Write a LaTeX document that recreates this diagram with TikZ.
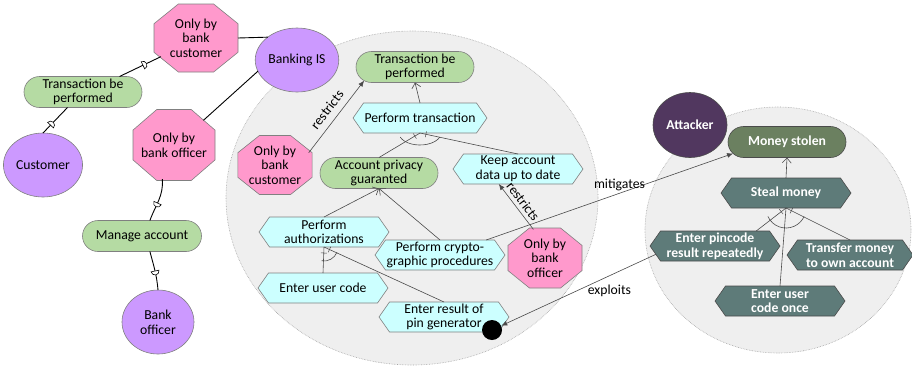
\documentclass[tikz,border=0pt]{standalone}
\usepackage{fontspec}
\setmainfont{Carlito}
\usetikzlibrary{shapes.geometric,shapes.misc,shapes.symbols,arrows.meta,calc,decorations.markings}
\pgfdeclarelayer{back}
\pgfdeclarelayer{bg}
\pgfsetlayers{back,bg,main}
\definecolor{pinkfill}{HTML}{FF99CC}
\definecolor{actorfill}{HTML}{CC99FF}
\definecolor{goalfill}{HTML}{B5DBA3}
\definecolor{taskfill}{HTML}{CCFFFF}
\definecolor{regionfill}{HTML}{EFEFEF}
\definecolor{attfill}{HTML}{51375F}
\definecolor{msfill}{HTML}{6B8060}
\definecolor{darktask}{HTML}{5E7B79}
\definecolor{edge}{HTML}{808080}
\definecolor{linegray}{HTML}{4A4A4A}
\tikzset{
  base/.style={align=center, inner sep=1pt, outer sep=0pt, font=\fontsize{13.7}{14.6}\selectfont, text=black},
  actor/.style={base, ellipse, draw=edge, fill=actorfill, line width=0.6pt, minimum width=72pt, minimum height=64pt},
  goal/.style={base, rounded rectangle, draw=edge, fill=goalfill, line width=0.6pt, minimum width=120pt, minimum height=31pt},
  goalD/.style={goal, fill=msfill, draw=linegray, text=white, font=\fontsize{13.7}{14.6}\selectfont\bfseries},
  task/.style={base, signal, signal to=east and west, signal pointer angle=110, draw=edge, fill=taskfill, line width=0.6pt, minimum width=130pt, minimum height=30pt},
  taskD/.style={task, fill=darktask, draw=linegray, text=white, font=\fontsize{13.7}{14.6}\selectfont\bfseries},
  oct/.style={base, ellipse, inner sep=0pt},
  octstyle/.style={draw=edge, fill=pinkfill, line width=0.6pt},
  region/.style={draw=gray!70, densely dotted, fill=regionfill, line width=0.6pt},
  depline/.style={draw=black, line width=0.9pt},
  depmark/.style={postaction={decorate, decoration={markings, mark=at position #1 with {\draw[fill=white, line width=0.6pt] (-1.5pt,-4pt) -- (-1.5pt,4pt) arc[start angle=90, end angle=-90, radius=4pt] -- cycle;}}}},
  dec/.style={draw=linegray, line width=0.6pt},
  tickend/.style={postaction={decorate, decoration={markings, mark=at position -6pt with {\draw[linegray, line width=0.5pt] (0pt,-3pt) -- (0pt,3pt);}}}},
  me/.style={dec, -{Straight Barb[length=5pt,width=9pt]}},
  arr/.style={dec, -{Latex[length=6pt,width=5pt]}},
  lbl/.style={base, inner sep=1pt}
}
\newcommand\octdraw[1]{%
  \begin{pgfonlayer}{bg}
  \draw[octstyle] let \p1=(#1.west), \p2=(#1.east), \p3=(#1.north), \p4=(#1.south) in
    ({\x1+0.29*(\x2-\x1)},\y3) -- ({\x2-0.29*(\x2-\x1)},\y3) -- (\x2,{\y3-0.29*(\y3-\y4)}) --
    (\x2,{\y4+0.29*(\y3-\y4)}) -- ({\x2-0.29*(\x2-\x1)},\y4) -- ({\x1+0.29*(\x2-\x1)},\y4) --
    (\x1,{\y4+0.29*(\y3-\y4)}) -- (\x1,{\y3-0.29*(\y3-\y4)}) -- cycle;
  \end{pgfonlayer}}
\begin{document}
\begin{tikzpicture}[x=1pt,y=-1pt]
\useasboundingbox (0,0) rectangle (912,368);
\begin{pgfonlayer}{back}
  \fill[white] (0,0) rectangle (912,368);
  \draw[region] (412,198) ellipse [x radius=186pt, y radius=167pt];
  \draw[region] (778,230) ellipse [x radius=133pt, y radius=123pt];
\end{pgfonlayer}
% left part
\node[actor] (cust) at (43,165) {Customer};
\node[actor] (officer) at (158,322) {Bank\\officer};
\node[actor] (bis) at (297,60) {Banking IS};
\node[goal] (goalL) at (83,92) {Transaction be\\performed};
\node[goal, minimum width=121pt] (manage) at (142,236) {Manage account};
\node[oct, minimum width=84pt, minimum height=68pt] (ocA) at (196,38) {Only by\\bank\\customer};
\node[oct, inner sep=-4pt, minimum width=82pt, minimum height=71pt] (ocB) at (174,145) {Only by\\bank officer};
% banking IS region
\node[oct, minimum width=74pt, minimum height=59pt] (ocC) at (275,165) {Only by\\bank\\customer};
\node[oct, minimum width=74pt, minimum height=60pt] (ocD) at (545,258) {Only by\\bank\\officer};
\octdraw{ocA}\octdraw{ocB}\octdraw{ocC}\octdraw{ocD}
\node[goal] (goalT) at (415,67) {Transaction be\\performed};
\node[task] (ptrans) at (420,118) {Perform transaction};
\node[goal] (privacy) at (379,173) {Account privacy\\guaranted};
\node[task] (keep) at (518,169) {Keep account\\data up to date};
\node[task] (auth) at (324,232) {Perform\\authorizations};
\node[task] (crypto) at (440,255) {Perform crypto-\\graphic procedures};
\node[task] (usercode) at (323,288) {Enter user code};
\node[task] (pingen) at (444,317) {Enter result of\\pin generator};
\node[circle, fill=black, minimum size=20pt, inner sep=0pt] (dot) at (492,330) {};
% attacker region
\node[actor, fill=attfill, draw=linegray, text=white, font=\fontsize{13.7}{14.6}\selectfont\bfseries, minimum width=74pt, minimum height=65pt] (att) at (690,125) {Attacker};
\node[goalD] (ms) at (787,142) {Money stolen};
\node[taskD] (steal) at (786,193) {Steal money};
\node[taskD] (pinrep) at (715,246) {Enter pincode\\result repeatedly};
\node[taskD, minimum width=126pt] (transfer) at (850,255) {Transfer money\\to own account};
\node[taskD] (once) at (780,301) {Enter user\\code once};
% dependencies (left)
\draw[depline, depmark=0.6] (goalL.23) -- (ocA.208);
\draw[depline, depmark=0.35] (cust.north) -- (goalL.225);
\draw[depline] (ocA.east) -- (bis.142);
\draw[depline] (ocB.40) -- (bis.196);
\draw[depline, depmark=0.6] (ocB.251) to[out=-85, in=70] (manage.63);
\draw[depline, depmark=0.55] (manage.297) to[out=-75, in=95] (officer.north);
% means-end
\draw[me] (ptrans.north) -- (goalT.south);
\draw[me] (auth.north) -- (privacy.south);
\draw[me] (crypto.north) -- (privacy.south);
\draw[me] (steal.north) -- (ms.south);
% AND decompositions
\draw[dec, tickend] (privacy.north) -- (ptrans.south);
\draw[dec, tickend] (keep.north) -- (ptrans.south);
\draw[dec] (ptrans.south) ++(200:21pt and 12pt) arc[start angle=200, end angle=340, x radius=21pt, y radius=12pt];
\draw[dec, tickend] (usercode.north) -- (auth.south);
\draw[dec, tickend] (pingen.north) -- (auth.south);
\draw[dec] (auth.south) ++(260:14pt) arc[start angle=260, end angle=338, radius=14pt];
\draw[dec, tickend] (pinrep.20) -- (steal.south);
\draw[dec] (once.north) -- (steal.south);
\draw[dec, tickend] (transfer.north) -- (steal.south);
\draw[dec] (steal.south) ++(205:20pt) arc[start angle=205, end angle=335, radius=20pt];
% labelled links
\draw[arr] (ocC.20) -- node[lbl, sloped, above=6pt] {restricts} (goalT.195);
\draw[arr] (ocD.112) -- node[lbl, sloped, above=3pt] {restricts} (keep.218);
\draw[arr] (crypto.18) -- node[lbl, pos=0.54, above=1pt] {mitigates} (ms.192);
\draw[arr] (pinrep.188) -- node[lbl, pos=0.3, below=8pt] {exploits} (dot);
\end{tikzpicture}
\end{document}
